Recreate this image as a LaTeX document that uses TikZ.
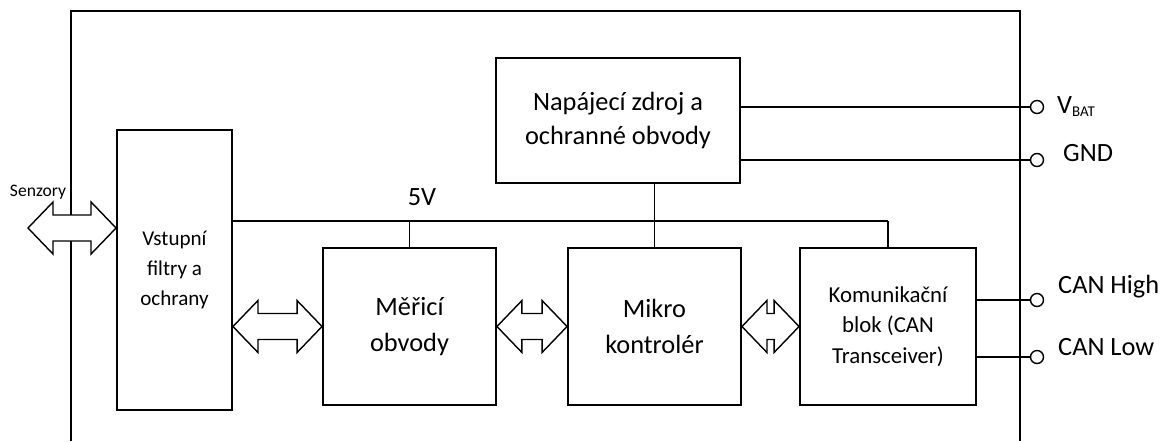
\documentclass[tikz,border=0pt]{standalone}
\usepackage{fontspec}
\setmainfont{Carlito}
\usetikzlibrary{calc}
\newcommand{\fathl}{25}
\newcommand{\fathh}{26}
\newcommand{\fatsh}{13}
\newcommand{\fatarrow}[2]{%
  \draw[fat] (#1) -- ($(#1)+(\fathl,-\fathh)$) -- ($(#1)+(\fathl,-\fatsh)$)
    -- ($(#2)+(-\fathl,-\fatsh)$) -- ($(#2)+(-\fathl,-\fathh)$) -- (#2)
    -- ($(#2)+(-\fathl,\fathh)$) -- ($(#2)+(-\fathl,\fatsh)$)
    -- ($(#1)+(\fathl,\fatsh)$) -- ($(#1)+(\fathl,\fathh)$) -- cycle;}

\begin{document}
\begin{tikzpicture}[x=0.02cm, y=-0.02cm,
  blok/.style={draw, line width=1.1pt, inner sep=0pt, align=center},
  fat/.style={draw, fill=white, line width=0.8pt, line join=miter},
  wire/.style={line width=0.6pt},
  bus/.style={line width=0.9pt},
  term/.style={circle, draw, line width=0.8pt, minimum size=0.26cm, inner sep=0pt},
  lbl/.style={font=\fontsize{15}{15}\selectfont, anchor=base west}]
  \useasboundingbox (0,0) rectangle (1161,441);
  % ------- frame of the unit (open at the bottom) -------
  \draw[line width=1.2pt] (71,441) -- (71,11) -- (1020,11) -- (1020,441);
  % ------- blocks -------
  \node[blok, minimum width=4.88cm, minimum height=2.5cm,
    font=\fontsize{15}{19}\selectfont] (napaj) at (618,120.5)
    {Napájecí zdroj a\\ ochranné obvody};
  \node[blok, minimum width=2.3cm, minimum height=5.6cm,
    font=\fontsize{12}{17.3}\selectfont] (vstup) at (174.5,270)
    {Vstupní\\ filtry a\\ ochrany};
  \node[blok, minimum width=3.46cm, minimum height=3.14cm,
    font=\fontsize{15}{20.5}\selectfont] (meric) at (409.5,326.5)
    {Měřicí\\ obvody};
  \node[blok, minimum width=3.46cm, minimum height=3.14cm,
    font=\fontsize{15}{20.5}\selectfont] (mikro) at (654.5,326.5)
    {Mikro\\ kontrolér};
  \node[blok, minimum width=3.52cm, minimum height=3.14cm,
    font=\fontsize{13}{17.3}\selectfont] (komun) at (888,326.5)
    {Komunikační\\ blok (CAN\\ Transceiver)};
  % ------- 5V rail -------
  \coordinate (bus) at (0,221);
  \node[font=\fontsize{15}{15}\selectfont] (v5) at (422,197) {5V};
  \draw[bus] (vstup.east |- bus) -- (komun.north |- bus);
  \draw[wire] (meric.north) -- (meric.north |- bus);
  \draw[wire] (komun.north) -- (komun.north |- bus);
  \draw[wire] (napaj.south -| mikro.north) -- (mikro.north);
  % ------- terminals -------
  \foreach \n/\y in {vbat/107, gnd/160, canh/300, canl/357}
    \node[term] (\n) at (1037,\y) {};
  \draw[bus] (napaj.east |- vbat) -- (vbat);
  \draw[bus] (napaj.east |- gnd) -- (gnd);
  \draw[bus] (komun.east |- canh) -- (canh);
  \draw[bus] (komun.east |- canl) -- (canl);
  \node[lbl] (vbatlab) at (1051,113)
    {V\raisebox{-0.07cm}{\fontsize{8.5}{8.5}\selectfont BAT}};
  \node[lbl] (gndlab) at (1057,161) {GND};
  \node[lbl] (canhlab) at (1052,293) {CAN High};
  \node[lbl] (canllab) at (1052,355) {CAN Low};
  % ------- block arrows -------
  \coordinate (senz) at (28,228);
  \node[font=\fontsize{10}{10}\selectfont, anchor=base] (senzlab) at (38,196) {Senzory};
  \fatarrow{senz}{vstup.west |- senz}
  \fatarrow{vstup.east |- meric.west}{meric.west}
  \fatarrow{meric.east}{mikro.west}
  \fatarrow{mikro.east}{komun.west}
\end{tikzpicture}
\end{document}
